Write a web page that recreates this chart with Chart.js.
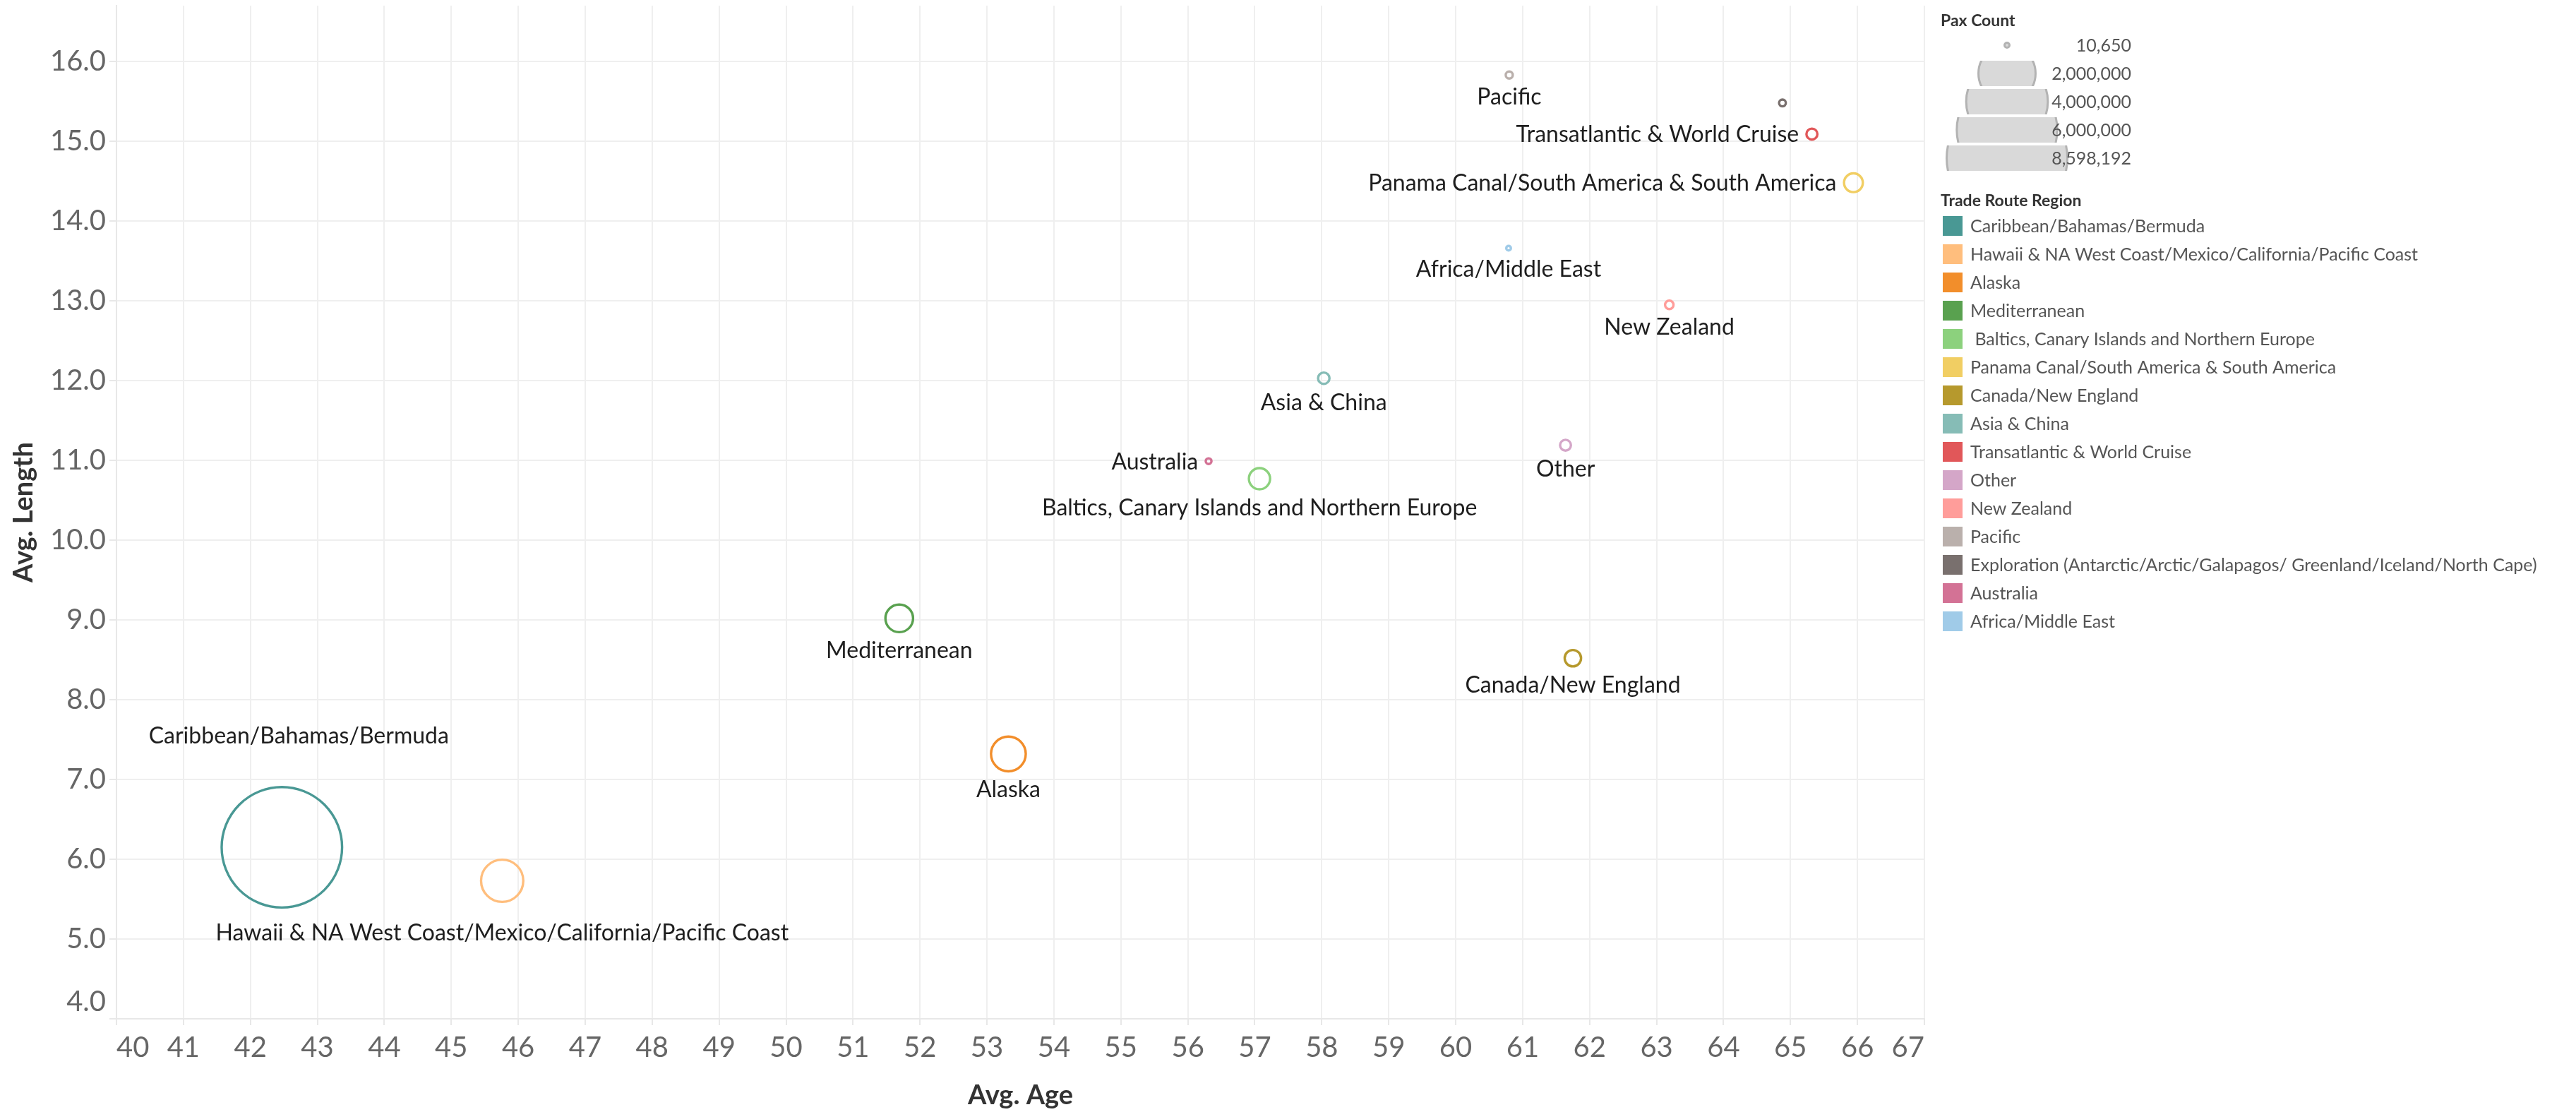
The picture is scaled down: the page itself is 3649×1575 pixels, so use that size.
<!DOCTYPE html>
<html>
<head>
<meta charset="utf-8">
<script src="https://cdn.jsdelivr.net/npm/chart.js@4.4.1/dist/chart.umd.min.js"></script>
<style>
  html, body { margin: 0; padding: 0; background: #fff; }
</style>
</head>
<body>
<canvas id="chart" width="3649" height="1575"></canvas>
<script>
// one bubble per trade route region
const regions = [
  'Caribbean/Bahamas/Bermuda',
  'Hawaii & NA West Coast/Mexico/California/Pacific Coast',
  'Alaska',
  'Mediterranean',
  ' Baltics, Canary Islands and Northern Europe',
  'Panama Canal/South America & South America',
  'Canada/New England',
  'Asia & China',
  'Transatlantic & World Cruise',
  'Other',
  'New Zealand',
  'Pacific',
  'Exploration (Antarctic/Arctic/Galapagos/ Greenland/Iceland/North Cape)',
  'Australia',
  'Africa/Middle East'
];
const avgAge = [42.47, 45.76, 53.32, 51.69, 57.07, 65.94, 61.75, 58.03, 65.32, 61.64, 63.19, 60.80, 64.88, 56.31, 60.79];
const avgLength = [6.15, 5.73, 7.32, 9.02, 10.77, 14.48, 8.52, 12.03, 15.09, 11.19, 12.95, 15.83, 15.48, 10.99, 13.66];
const paxCount = [8598192, 1134000, 786000, 515000, 317000, 256000, 201000, 109000, 102000, 100000, 67000, 51000, 48000, 38000, 10650];
const sizeLegendValues = [10650, 2000000, 4000000, 6000000, 8598192];

const regionColors = ['#499894', '#FFBE7D', '#F28E2B', '#59A14F', '#8CD17D', '#F1CE63', '#B6992D', '#86BCB6',
  '#E15759', '#D4A6C8', '#FF9D9A', '#BAB0AC', '#79706E', '#D37295', '#A0CBE8'];

const FONT = 'Lato';
const RING = 3.4;
const maxPax = Math.max(...paxCount);

// area-proportional size, outer edge of the ring in px
const outerRadius = p => Math.max(5, 87 * Math.sqrt(p / maxPax));

// where the mark label goes (default: centred below the bubble)
const labelPlacement = {
  'Caribbean/Bahamas/Bermuda': { side: 'above', gap: 60, dx: 24 },
  'Hawaii & NA West Coast/Mexico/California/Pacific Coast': { side: 'below', gap: 30 },
  'Panama Canal/South America & South America': { side: 'left' },
  'Transatlantic & World Cruise': { side: 'left' },
  'Australia': { side: 'left' },
  'Exploration (Antarctic/Arctic/Galapagos/ Greenland/Iceland/North Cape)': { side: 'none' }
};

const markLabels = {
  id: 'markLabels',
  afterDatasetsDraw(chart) {
    const ctx = chart.ctx;
    const size = 32;
    const cap = size * 0.72;
    ctx.save();
    ctx.font = size + 'px ' + FONT;
    ctx.fillStyle = '#1e1e1e';
    ctx.textBaseline = 'alphabetic';
    chart.data.datasets.forEach((ds, i) => {
      const el = chart.getDatasetMeta(i).data[0];
      const ro = outerRadius(paxCount[i]);
      const p = labelPlacement[ds.label] || { side: 'below' };
      const text = ds.label.trim();
      if (p.side === 'none') return;
      if (p.side === 'left') {
        ctx.textAlign = 'right';
        ctx.fillText(text, el.x - ro - 9, el.y + cap / 2);
      } else if (p.side === 'above') {
        ctx.textAlign = 'center';
        ctx.fillText(text, el.x + (p.dx || 0), el.y - ro - p.gap);
      } else {
        ctx.textAlign = 'center';
        ctx.fillText(text, el.x + (p.dx || 0), el.y + ro + (p.gap || 12) + cap);
      }
    });
    ctx.restore();
  }
};

const sideLegend = {
  id: 'sideLegend',
  afterDraw(chart) {
    const ctx = chart.ctx;
    const left = chart.chartArea.right + 23;
    ctx.save();

    // Pax Count size legend
    ctx.font = 'bold 23px ' + FONT;
    ctx.fillStyle = '#333';
    ctx.textAlign = 'left';
    ctx.textBaseline = 'middle';
    ctx.fillText('Pax Count', left, 30);

    const cx = left + 94;
    sizeLegendValues.forEach((v, i) => {
      const cy = 64 + 40 * i;
      ctx.save();
      ctx.beginPath();
      ctx.rect(left - 10, cy - 18, 300, 36);
      ctx.clip();
      ctx.beginPath();
      ctx.arc(cx, cy, outerRadius(v) - 1.5, 0, Math.PI * 2);
      ctx.fillStyle = '#d9d9d9';
      ctx.fill();
      ctx.lineWidth = 3;
      ctx.strokeStyle = '#b3b3b3';
      ctx.stroke();
      ctx.restore();
      ctx.font = '25px ' + FONT;
      ctx.fillStyle = '#555';
      ctx.textAlign = 'right';
      ctx.fillText(v.toLocaleString('en-US'), left + 270, cy + 1);
    });

    // Trade Route Region colour legend
    ctx.font = 'bold 23px ' + FONT;
    ctx.fillStyle = '#333';
    ctx.textAlign = 'left';
    ctx.fillText('Trade Route Region', left, 285);
    ctx.font = '25px ' + FONT;
    chart.data.datasets.forEach((ds, i) => {
      const cy = 320 + 40 * i;
      ctx.fillStyle = ds.borderColor;
      ctx.fillRect(left + 3, cy - 14, 28, 28);
      ctx.fillStyle = '#555';
      ctx.fillText(ds.label, left + 42, cy + 1);
    });
    ctx.restore();
  }
};

const tickFont = { family: FONT, size: 40 };
const titleFont = { family: FONT, size: 38, weight: 'bold' };

new Chart(document.getElementById('chart'), {
  type: 'bubble',
  data: {
    datasets: regions.map((name, i) => ({
      label: name,
      data: [{ x: avgAge[i], y: avgLength[i], r: outerRadius(paxCount[i]) - RING / 2 }],
      borderColor: regionColors[i],
      backgroundColor: 'rgba(0,0,0,0)',
      borderWidth: RING,
      hoverBorderWidth: RING
    }))
  },
  options: {
    responsive: false,
    animation: false,
    devicePixelRatio: 1,
    layout: { autoPadding: false, padding: { top: 8, right: 923, bottom: 0, left: 0 } },
    plugins: { legend: { display: false }, tooltip: { enabled: false } },
    scales: {
      x: {
        type: 'linear',
        min: 40,
        max: 67,
        ticks: { stepSize: 1, maxTicksLimit: 30, align: 'inner', autoSkip: false, maxRotation: 0,
          color: '#666', font: tickFont, padding: 8 },
        grid: { color: '#efefef', lineWidth: 2, tickLength: 9, tickColor: '#e8e8e8' },
        border: { color: '#e8e8e8', width: 2 },
        title: { display: true, text: 'Avg. Age', color: '#333', font: titleFont, padding: 0 },
        afterFit(s) { s.height = 132; s.paddingLeft = 0; s.paddingRight = 0; }
      },
      y: {
        type: 'linear',
        min: 4,
        max: 16.7,
        ticks: { stepSize: 1, maxTicksLimit: 20, includeBounds: false, color: '#666', font: tickFont, padding: 5,
          callback: v => v === 4 ? ['4.0', ''] : v.toFixed(1) },
        grid: { color: '#efefef', lineWidth: 2, tickLength: 10, tickColor: '#e8e8e8' },
        border: { color: '#e8e8e8', width: 2 },
        title: { display: true, text: 'Avg. Length', color: '#333', font: titleFont, padding: { top: 11, bottom: 0 } },
        afterFit(s) { s.width = 165; s.paddingTop = 0; s.paddingBottom = 0; }
      }
    }
  },
  plugins: [markLabels, sideLegend]
});
</script>
</body>
</html>
